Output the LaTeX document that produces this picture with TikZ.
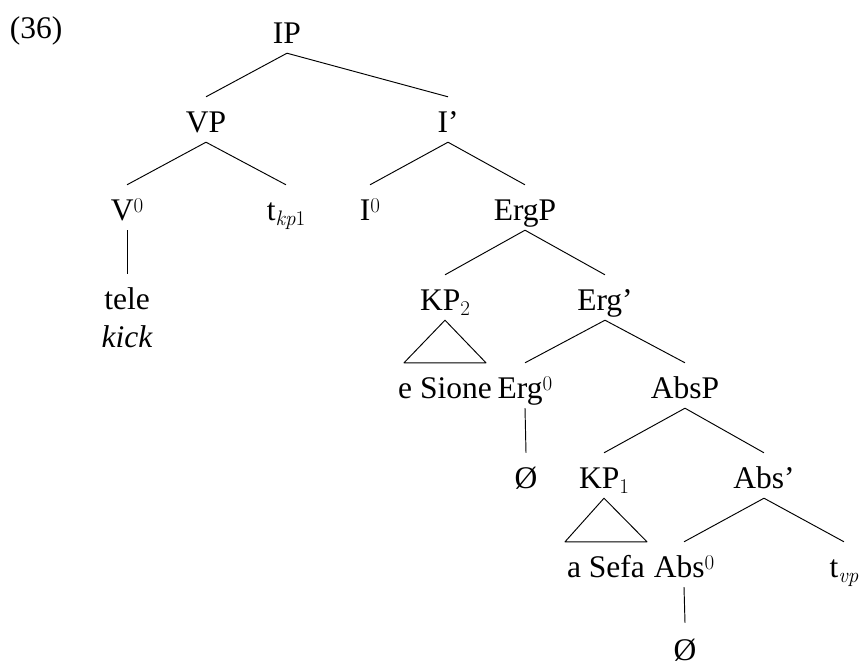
\documentclass[tikz,border=0pt]{standalone}
\usepackage{fontspec}
\setmainfont{Liberation Serif}
\newfontfamily\lmrom{Latin Modern Roman}
\newcommand\supz[1]{\raisebox{8pt}{\fontsize{21}{21}\selectfont\lmrom #1}}
\newcommand\subz[1]{\raisebox{-5pt}{\fontsize{21}{21}\selectfont\lmrom #1}}
\begin{document}
\begin{tikzpicture}[x=1pt,y=-1pt,
  lab/.style={anchor=base,inner sep=0pt,text height=35pt,text depth=10pt,font=\fontsize{31.5}{38}\selectfont},
  edge/.style={line width=0.95pt,line join=round}]
\useasboundingbox (0,0) rectangle (861,667);
\node[lab] (ex) at (36,38) {(36)};
\node[lab] (IP) at (287,43) {IP};
\node[lab] (VP) at (206,132) {VP};
\node[lab] (Ibar) at (448,132) {I’};
\node[lab] (V0) at (127,220) {V\supz{0}};
\node[lab] (tkp) at (286,220) {t\subz{\itshape kp\upshape 1}};
\node[lab] (I0) at (370,220) {I\supz{0}};
\node[lab] (ErgP) at (525,220) {ErgP};
\node[lab] (tele) at (127,309) {tele};
\node[lab] (kick) at (127,347) {\itshape kick};
\node[lab] (KP2) at (445,310) {KP\subz{2}};
\node[lab] (Ergbar) at (605,310) {Erg’};
\node[lab] (Sione) at (445,398) {e Sione};
\node[lab] (Erg0) at (525,398) {Erg\supz{0}};
\node[lab] (AbsP) at (685,398) {AbsP};
\node[lab] (nullA) at (526,488) {Ø};
\node[lab] (KP1) at (604,488) {KP\subz{1}};
\node[lab] (Absbar) at (764,488) {Abs’};
\node[lab] (Sefa) at (606,577) {a Sefa};
\node[lab] (Abs0) at (684,577) {Abs\supz{0}};
\node[lab] (tvp) at (844,577) {t\subz{\itshape vp}};
\node[lab] (nullB) at (685,660) {Ø};
\begin{scope}[edge]
\draw (IP.south) -- (VP.north);
\draw (IP.south) -- (Ibar.north);
\draw (VP.south) -- (V0.north);
\draw (VP.south) -- (tkp.north);
\draw (V0.south) -- (tele.north);
\draw (Ibar.south) -- (I0.north);
\draw (Ibar.south) -- (ErgP.north);
\draw (ErgP.south) -- (KP2.north);
\draw (ErgP.south) -- (Ergbar.north);
\draw (KP2.south) -- ([xshift=-41pt]Sione.north) -- ([xshift=41pt]Sione.north) -- cycle;
\draw (Ergbar.south) -- (Erg0.north);
\draw (Ergbar.south) -- (AbsP.north);
\draw (Erg0.south) -- (nullA.north);
\draw (AbsP.south) -- (KP1.north);
\draw (AbsP.south) -- (Absbar.north);
\draw (KP1.south) -- ([xshift=-41pt]Sefa.north) -- ([xshift=41pt]Sefa.north) -- cycle;
\draw (Absbar.south) -- (Abs0.north);
\draw (Absbar.south) -- (tvp.north);
\draw (Abs0.south) -- ([yshift=2pt]nullB.north);
\end{scope}
\end{tikzpicture}
\end{document}
